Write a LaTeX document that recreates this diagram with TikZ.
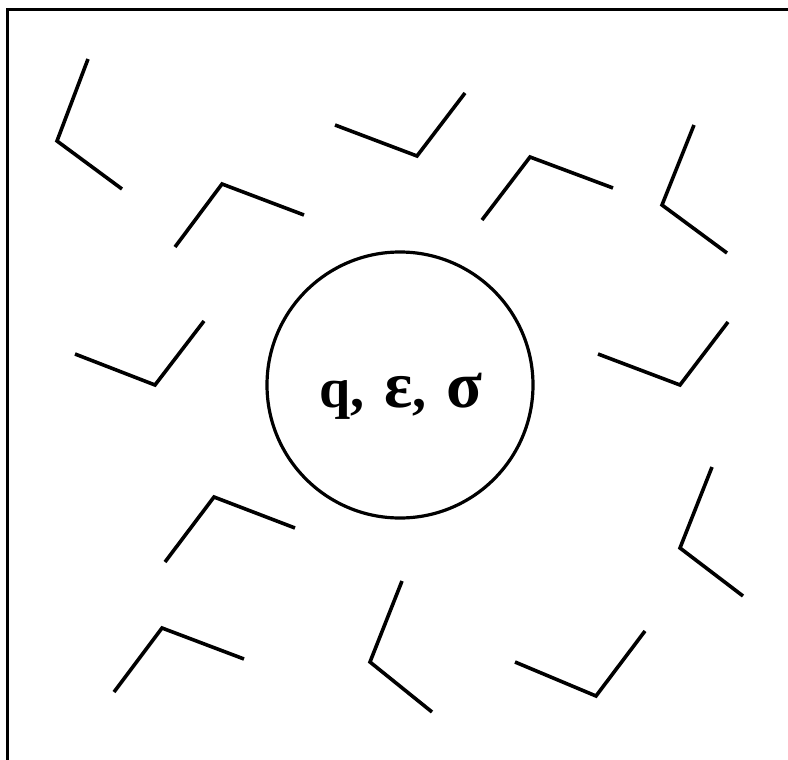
\documentclass[tikz,border=0pt]{standalone}
\usepackage{fontspec}
\setmainfont{Liberation Serif}
\begin{document}
\begin{tikzpicture}[x=1pt,y=-1pt,
  vmark/.style={line width=3.6pt,line cap=butt,line join=miter},
  framestyle/.style={line width=3.4pt},
  core/.style={circle,draw,line width=3.2pt,minimum size=266pt,inner sep=0pt},
  label/.style={anchor=base west,inner sep=0pt,font=\fontsize{56}{60}\selectfont\bfseries}]
\useasboundingbox (0,0) rectangle (788,760);
\draw[framestyle] (7.7,762) -- (7.7,9.7) -- (790,9.7);
\node[core] (c) at (400,385) {};
\node[label] (t) at (319,407) {q,\hspace{20pt}{\fontsize{66}{70}\selectfont ε},\hspace{20pt}{\fontsize{66}{70}\selectfont σ}};
\draw[vmark] (88,59) -- (57,141) -- (122,189);
\draw[vmark] (175,247) -- (222,184) -- (304,215);
\draw[vmark] (335,125) -- (417,156) -- (465,93);
\draw[vmark] (482,220) -- (530,157) -- (613,188);
\draw[vmark] (694,125) -- (662,205) -- (727,253);
\draw[vmark] (75,354) -- (155,385) -- (204,321);
\draw[vmark] (598,354) -- (680,385) -- (728,322);
\draw[vmark] (165,562) -- (214,497) -- (295,528);
\draw[vmark] (712,467) -- (680,548) -- (743,596);
\draw[vmark] (114,692) -- (162,628) -- (244,659);
\draw[vmark] (402,581) -- (370,662) -- (432,712);
\draw[vmark] (515,662) -- (596,696) -- (645,631);
\end{tikzpicture}
\end{document}
